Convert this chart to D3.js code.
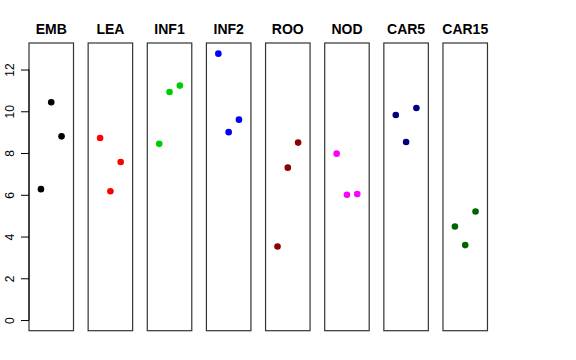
<!DOCTYPE html>
<html>
<head>
<meta charset="utf-8">
<script src="https://cdn.jsdelivr.net/npm/d3@7"></script>
<style>
  body { margin: 0; background: #fff; }
  svg { display: block; }
</style>
</head>
<body>
<svg id="chart" width="576" height="360"></svg>
<script>
// tissues (panels) and their colours
var tissues = ["EMB", "LEA", "INF1", "INF2", "ROO", "NOD", "CAR5", "CAR15"];
var colors  = ["#000000", "#FF0000", "#00CD00", "#0000FF", "#8B0000", "#FF00FF", "#000080", "#006400"];
// three replicates per tissue
var rep1 = [6.27, 8.72, 8.44, 12.76, 3.52, 7.97, 9.82, 4.48];
var rep2 = [10.43, 6.17, 10.92, 9.00, 7.30, 6.00, 8.53, 3.59];
var rep3 = [8.80, 7.57, 11.23, 9.60, 8.50, 6.04, 10.16, 5.20];
var yTicks = [0, 2, 4, 6, 8, 10, 12];

var svg = d3.select("#chart");

var panelW = 44.5, panelStep = 59.14, left0 = 29, plotTop = 43, plotBottom = 330.7;

// shared y scale (R style 4% padding around 0..max)
var ymax = d3.max([].concat(rep1, rep2, rep3));
var pad = ymax * 0.04;
var y = d3.scaleLinear().domain([-pad, ymax + pad]).range([plotBottom, plotTop]);

var panel = d3.scaleBand().domain(tissues)
  .range([left0, left0 + panelStep * (tissues.length - 1) + panelW])
  .paddingInner((panelStep - panelW) / panelStep).paddingOuter(0);

var x = d3.scaleLinear().domain([-0.16, 4.16]).range([0, panel.bandwidth()]);

tissues.forEach(function(t, i) {
  var g = svg.append("g").attr("transform", "translate(" + panel(t) + ",0)");
  g.append("rect")
    .attr("x", 0).attr("y", plotTop)
    .attr("width", panel.bandwidth()).attr("height", plotBottom - plotTop)
    .attr("fill", "none").attr("stroke", "#333").attr("stroke-width", 1.2);

  var vals = [rep1[i], rep2[i], rep3[i]];
  g.selectAll("circle").data(vals).enter().append("circle")
    .attr("cx", function(d, j) { return x(j + 1); })
    .attr("cy", function(d) { return y(d); })
    .attr("r", 3.3)
    .attr("fill", colors[i]);

  g.append("text")
    .attr("x", panel.bandwidth() / 2).attr("y", 34.3)
    .attr("text-anchor", "middle")
    .attr("font-family", "Liberation Sans, Arial, sans-serif")
    .attr("font-weight", "bold").attr("font-size", 14)
    .text(t);
});

// y axis on the first panel
var yAxis = d3.axisLeft(y).tickValues(yTicks).tickSize(8).tickPadding(4).tickFormat(d3.format("d"));
var ag = svg.append("g").attr("transform", "translate(" + left0 + ",0)").call(yAxis);
ag.select(".domain").attr("d", "M0," + y(0) + "V" + y(12)).attr("stroke", "#000");
ag.selectAll(".tick line").attr("stroke", "#000");
ag.selectAll(".tick text")
  .attr("font-family", "Liberation Sans, Arial, sans-serif")
  .attr("font-size", 12).attr("fill", "#000")
  .attr("text-anchor", "middle")
  .attr("transform", "rotate(-90,-19,0)")
  .attr("x", -19).attr("dy", "0.35em");
</script>
</body>
</html>
